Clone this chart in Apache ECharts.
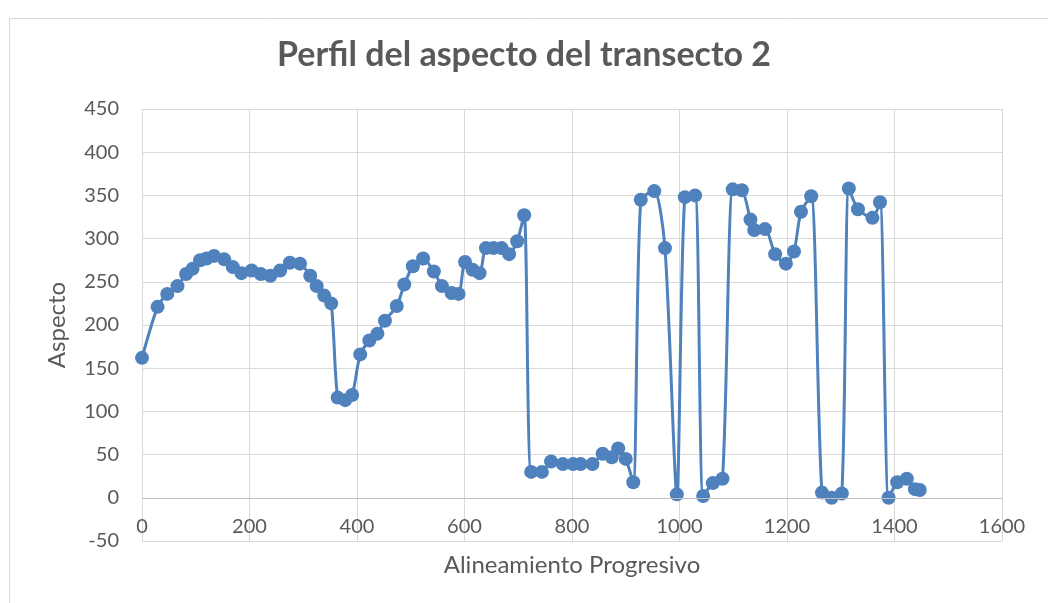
<!DOCTYPE html>
<html>
<head>
<meta charset="utf-8">
<script src="https://cdn.jsdelivr.net/npm/echarts@6/dist/echarts.min.js"></script>
<style>
  html, body { margin: 0; padding: 0; background: #fff; }
  #chart { width: 1048px; height: 603px; }
</style>
</head>
<body>
<div id="chart"></div>
<script>
// Progressive alignment (m) along transect 2
const progresivo = [0, 29, 47, 66, 82, 94, 108, 120, 134, 153, 169, 185, 204, 221, 239, 257, 275, 294, 313, 325,
  339, 352, 364, 378, 391, 406, 423, 438, 452, 474, 488, 504, 523, 543, 558, 576, 589, 601, 615, 628,
  640, 654, 669, 683, 698, 711, 724, 744, 761, 783, 802, 816, 838, 857, 874, 886, 900, 914, 928, 953,
  973, 995, 1010, 1029, 1044, 1062, 1080, 1099, 1116, 1132, 1139, 1159, 1178, 1198, 1213, 1226, 1245, 1265, 1283, 1302,
  1315, 1332, 1359, 1373, 1389, 1405, 1423, 1438, 1447];

// Aspect (degrees) at each station
const aspecto = [162, 221, 236, 245, 259, 265, 275, 277, 280, 276, 267, 260, 263, 259, 257, 263, 272, 271, 257, 245,
  234, 225, 116, 113, 119, 166, 182, 190, 205, 222, 247, 268, 277, 262, 245, 237, 236, 273, 264, 260,
  289, 289, 289, 282, 297, 327, 30, 30, 42, 39, 39, 39, 39, 51, 47, 57, 45, 18, 345, 355,
  289, 4, 348, 350, 2, 17, 22, 357, 356, 322, 310, 311, 282, 271, 285, 331, 349, 6, 0, 5,
  358, 334, 324, 342, 0, 18, 22, 10, 9];

const puntos = progresivo.map((x, i) => [x, aspecto[i]]);

const textGray = '#595959';
const gridGray = '#d9d9d9';
const axisGray = '#bfbfbf';
const serieColor = '#4f81bd';
const fuente = 'Lato';

const chart = echarts.init(document.getElementById('chart'), null, { renderer: 'canvas', width: 1048, height: 603 });
chart.setOption({
  animation: false,
  backgroundColor: '#fff',
  title: {
    text: 'Perfil del aspecto del transecto 2',
    left: 'center',
    top: 33,
    textStyle: { fontFamily: fuente, fontSize: 34, fontWeight: 'bold', color: textGray }
  },
  graphic: [{
    type: 'rect',
    shape: { x: 9.5, y: 18.5, width: 1100, height: 700 },
    style: { fill: 'none', stroke: gridGray, lineWidth: 1 },
    silent: true
  }],
  grid: { left: 142, right: 46, top: 109, bottom: 62, containLabel: false, outerBoundsMode: 'none' },
  xAxis: {
    type: 'value',
    min: 0, max: 1600, interval: 200,
    name: 'Alineamiento Progresivo',
    nameLocation: 'middle',
    nameGap: 12,
    nameTextStyle: { fontFamily: fuente, fontSize: 24, color: textGray },
    axisLine: { show: false, onZero: false },
    axisTick: { show: false },
    axisLabel: { margin: -24, fontFamily: fuente, fontSize: 20, color: textGray, formatter: v => String(v) },
    splitLine: { show: true, lineStyle: { color: gridGray, width: 1 } }
  },
  yAxis: {
    type: 'value',
    min: -50, max: 450, interval: 50,
    name: 'Aspecto',
    nameLocation: 'middle',
    nameGap: 73,
    nameTextStyle: { fontFamily: fuente, fontSize: 24, color: textGray },
    axisLine: { show: false },
    axisTick: { show: false },
    axisLabel: { margin: 23, fontFamily: fuente, fontSize: 20, color: textGray },
    splitLine: { show: true, lineStyle: { color: gridGray, width: 1 } }
  },
  series: [{
    type: 'line',
    data: puntos,
    smooth: 0.25,
    symbol: 'circle',
    symbolSize: 14,
    lineStyle: { color: serieColor, width: 3 },
    itemStyle: { color: serieColor },
    // horizontal axis line crossing at zero
    markLine: {
      silent: true,
      symbol: 'none',
      label: { show: false },
      lineStyle: { color: axisGray, width: 1, type: 'solid' },
      data: [{ yAxis: 0 }]
    },
    z: 3
  }]
});
</script>
</body>
</html>
